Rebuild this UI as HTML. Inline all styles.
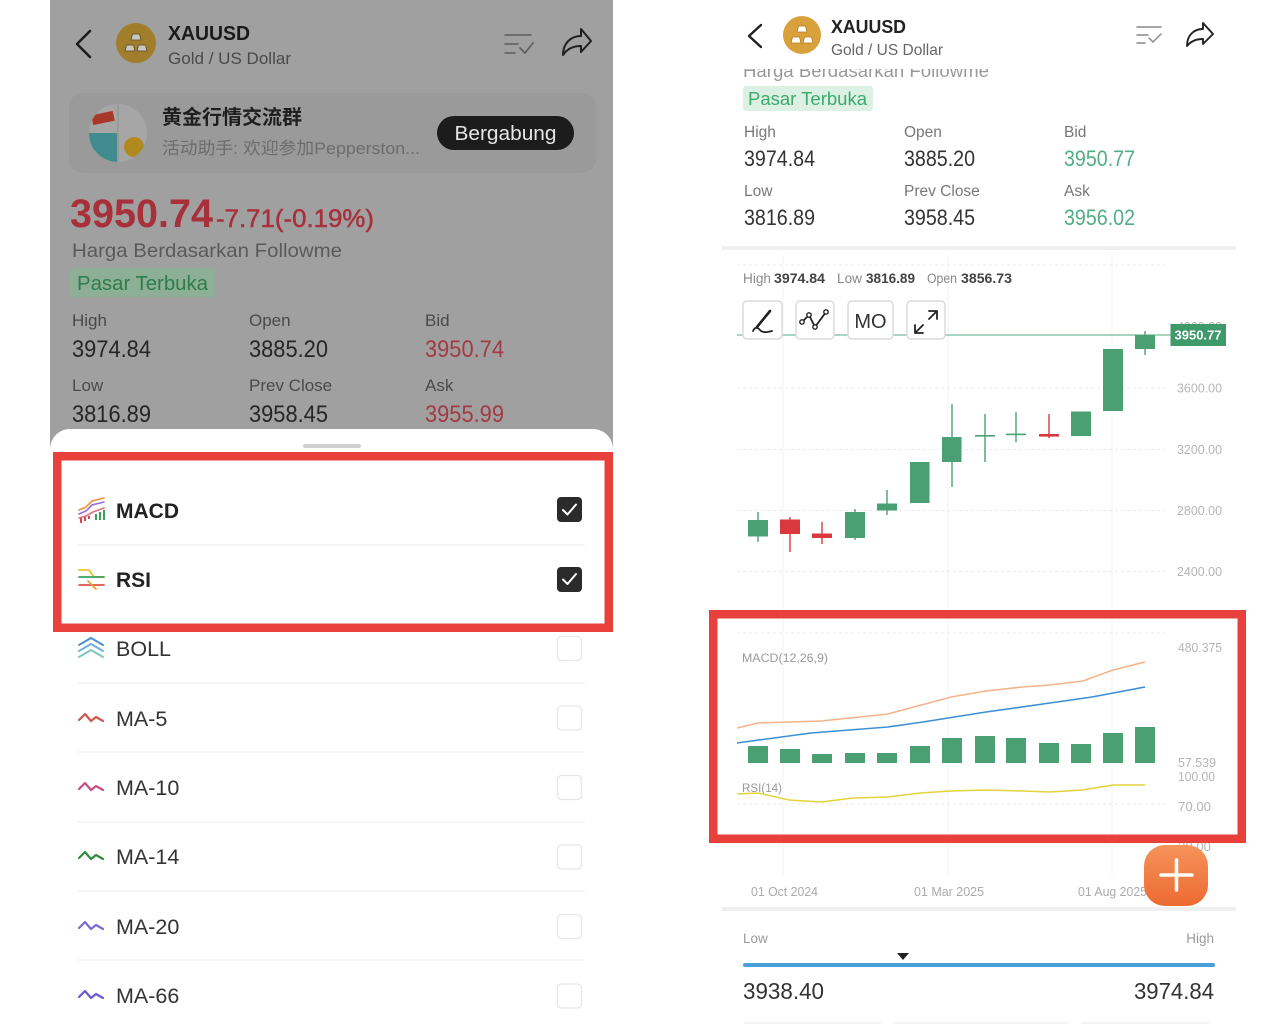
<!DOCTYPE html>
<html><head><meta charset="utf-8">
<style>
html,body{margin:0;padding:0;background:#fff;}
svg{display:block;}
text{font-family:"Liberation Sans","Noto Sans CJK SC",sans-serif;}
</style></head><body>
<svg width="1280" height="1029" viewBox="0 0 1280 1029" xmlns="http://www.w3.org/2000/svg">
<defs>
  <clipPath id="avc"><circle cx="118" cy="133" r="29"/></clipPath>
  <clipPath id="hclip"><rect x="722" y="69" width="520" height="16"/></clipPath>
  <linearGradient id="fab" x1="0" y1="0" x2="0" y2="1">
    <stop offset="0" stop-color="#f5935a"/><stop offset="1" stop-color="#ec6b32"/>
  </linearGradient>
</defs>
<rect width="1280" height="1029" fill="#fff"/>

<!-- ============ LEFT PANEL ============ -->
<rect x="50" y="0" width="563" height="450" fill="#a0a0a0"/>
<path d="M90,31 L77,44 L90,57" stroke="#1d1d1d" stroke-width="2.6" fill="none" stroke-linecap="round" stroke-linejoin="round"/>
<circle cx="136" cy="43" r="20" fill="#a07e2c"/>
<g fill="#c8c6c0" stroke="#5e4a1c" stroke-width="0.8">
  <polygon points="131,40 141,40 139.5,34 132.5,34"/>
  <polygon points="125,51 135,51 133.5,45 126.5,45"/>
  <polygon points="137,51 147,51 145.5,45 138.5,45"/>
</g>
<text x="168" y="40" font-size="20" font-weight="bold" fill="#1a1a1a" textLength="82" lengthAdjust="spacingAndGlyphs">XAUUSD</text>
<text x="168" y="64" font-size="17" fill="#4a4a4a" textLength="123" lengthAdjust="spacingAndGlyphs">Gold / US Dollar</text>
<g stroke="#5e5e5e" stroke-width="1.6" fill="none" stroke-linecap="round">
  <line x1="505" y1="35" x2="531" y2="35"/><line x1="505" y1="44" x2="518" y2="44"/><line x1="505" y1="53" x2="515" y2="53"/>
  <polyline points="520,48 525,53 533,43"/>
</g>
<path d="M563,55 C563,43 571,36 581,36 L581,29 L591,41 L581,52 L581,46 C573,46 567,49 563,55 Z" stroke="#1f1f1f" stroke-width="2" fill="none" stroke-linejoin="round"/>

<rect x="69" y="93" width="527" height="80" rx="14" fill="#9a9a9a"/>
<g clip-path="url(#avc)">
  <rect x="89" y="104" width="58" height="58" fill="#a6a6a6"/>
  <rect x="89" y="133" width="29" height="29" fill="#3f8b8d"/>
  <rect x="92" y="113" width="22" height="10" fill="#a8382a" transform="rotate(-12 103 118)"/>
  <circle cx="134" cy="147" r="10" fill="#b08a1e"/>
  <line x1="118" y1="104" x2="118" y2="162" stroke="#9a9a9a" stroke-width="2"/>
</g>
<text x="162" y="124" font-size="20" font-weight="bold" fill="#1f1f1f" textLength="140" lengthAdjust="spacingAndGlyphs">黄金行情交流群</text>
<text x="162" y="154" font-size="17" fill="#6c6c6c" textLength="258" lengthAdjust="spacingAndGlyphs">活动助手: 欢迎参加Pepperston...</text>
<rect x="437" y="116" width="137" height="34" rx="17" fill="#1c1c1c"/>
<text x="505.5" y="140" font-size="20" fill="#e6e6e6" text-anchor="middle" textLength="102" lengthAdjust="spacingAndGlyphs">Bergabung</text>

<text x="70" y="227" font-size="40" font-weight="bold" fill="#a8303a" textLength="143" lengthAdjust="spacingAndGlyphs">3950.74</text>
<text x="216" y="227" font-size="25" fill="#a8303a" stroke="#a8303a" stroke-width="0.5" textLength="158" lengthAdjust="spacingAndGlyphs">-7.71(-0.19%)</text>
<text x="72" y="257" font-size="19.5" fill="#5a5a5a" textLength="270" lengthAdjust="spacingAndGlyphs">Harga Berdasarkan Followme</text>
<rect x="70" y="268" width="145" height="29" rx="3" fill="#8caf96"/>
<text x="77" y="290" font-size="20" fill="#2f7d4c" textLength="131" lengthAdjust="spacingAndGlyphs">Pasar Terbuka</text>

<g font-size="17" fill="#4a4a4a">
  <text x="72" y="326">High</text><text x="249" y="326">Open</text><text x="425" y="326">Bid</text>
  <text x="72" y="391">Low</text><text x="249" y="391">Prev Close</text><text x="425" y="391">Ask</text>
</g>
<g font-size="24" fill="#262626">
  <text x="72" y="357" textLength="79" lengthAdjust="spacingAndGlyphs">3974.84</text>
  <text x="249" y="357" textLength="79" lengthAdjust="spacingAndGlyphs">3885.20</text>
  <text x="425" y="357" textLength="79" lengthAdjust="spacingAndGlyphs" fill="#a33a45">3950.74</text>
  <text x="72" y="422" textLength="79" lengthAdjust="spacingAndGlyphs">3816.89</text>
  <text x="249" y="422" textLength="79" lengthAdjust="spacingAndGlyphs">3958.45</text>
  <text x="425" y="422" textLength="79" lengthAdjust="spacingAndGlyphs" fill="#a33a45">3955.99</text>
</g>

<!-- sheet -->
<rect x="50" y="429" width="563" height="640" rx="20" fill="#ffffff"/>
<rect x="303" y="444" width="58" height="4" rx="2" fill="#cfcfcf"/>

<!-- list separators -->
<g stroke="#f1f1f1" stroke-width="1.2">
  <line x1="78" y1="545" x2="585" y2="545"/>
  <line x1="78" y1="683" x2="585" y2="683"/>
  <line x1="78" y1="752" x2="585" y2="752"/>
  <line x1="78" y1="822" x2="585" y2="822"/>
  <line x1="78" y1="891" x2="585" y2="891"/>
  <line x1="78" y1="960" x2="585" y2="960"/>
</g>

<!-- MACD icon -->
<g fill="none" stroke-width="1.6" stroke-linecap="round">
  <path d="M79,510 L86,507 L92,501 L104,498" stroke="#f0913a"/>
  <path d="M79,514 L86,511 L92,505 L104,502" stroke="#9a6ad6"/>
  <path d="M79,518 L86,516 L93,512 L104,508" stroke="#e0707a"/>
</g>
<g fill="#3aa05a"><rect x="95" y="514" width="2" height="6"/><rect x="99" y="512" width="2" height="8"/><rect x="103" y="510" width="2" height="10"/></g>
<g fill="#d9484a"><rect x="80" y="518" width="2" height="5"/><rect x="84" y="517" width="2" height="4"/><rect x="88" y="516" width="2" height="3"/></g>
<text x="116" y="518" font-size="21" font-weight="bold" fill="#222">MACD</text>
<rect x="557" y="497" width="25" height="25" rx="4" fill="#2b2b2b"/>
<path d="M563,510 L567.5,514.5 L576,504.5" stroke="#fff" stroke-width="2" fill="none" stroke-linecap="round" stroke-linejoin="round"/>

<!-- RSI icon -->
<g fill="none" stroke-width="1.8" stroke-linecap="round">
  <path d="M79,570 L89,570 L94,577 L104,577" stroke="#e8c431"/>
  <path d="M79,577 L104,577" stroke="#3aa05a"/>
  <path d="M79,585 L104,585" stroke="#e0504a"/>
  <path d="M88,581 L96,589" stroke="#f0a030"/>
</g>
<text x="116" y="587" font-size="21" font-weight="bold" fill="#222">RSI</text>
<rect x="557" y="567" width="25" height="25" rx="4" fill="#2b2b2b"/>
<path d="M563,579.5 L567.5,584 L576,574" stroke="#fff" stroke-width="2" fill="none" stroke-linecap="round" stroke-linejoin="round"/>

<!-- BOLL -->
<g fill="none" stroke-width="2" stroke-linejoin="round" stroke-linecap="round">
  <path d="M79,645 L91,638 L103,645" stroke="#4f8fd0"/>
  <path d="M79,651 L91,644 L103,651" stroke="#6fb0e0"/>
  <path d="M79,657 L91,650 L103,657" stroke="#7ec7c0"/>
</g>
<text x="116" y="656" font-size="21.5" fill="#333">BOLL</text>
<!-- MA rows -->
<g fill="none" stroke-width="2.2" stroke-linecap="round" stroke-linejoin="round">
  <path d="M79,720 L85,714 L91,721 L96,717 L103,721" stroke="#d2564a"/>
  <path d="M79,789 L85,783 L91,790 L96,786 L103,790" stroke="#c94c8a"/>
  <path d="M79,858 L85,852 L91,859 L96,855 L103,859" stroke="#2e8b3e"/>
  <path d="M79,928 L85,922 L91,929 L96,925 L103,929" stroke="#7a6ad0"/>
  <path d="M79,997 L85,991 L91,998 L96,994 L103,998" stroke="#6a5acd"/>
</g>
<g font-size="21.5" fill="#333">
  <text x="116" y="726">MA-5</text>
  <text x="116" y="795">MA-10</text>
  <text x="116" y="864">MA-14</text>
  <text x="116" y="934">MA-20</text>
  <text x="116" y="1003">MA-66</text>
</g>
<g fill="none" stroke="#e6e6e6" stroke-width="1.3">
  <rect x="557.5" y="636.5" width="24" height="24" rx="4"/>
  <rect x="557.5" y="706" width="24" height="24" rx="4"/>
  <rect x="557.5" y="775.5" width="24" height="24" rx="4"/>
  <rect x="557.5" y="845" width="24" height="24" rx="4"/>
  <rect x="557.5" y="914.5" width="24" height="24" rx="4"/>
  <rect x="557.5" y="984" width="24" height="24" rx="4"/>
</g>

<!-- ============ RIGHT PANEL ============ -->
<path d="M761,25 L749,36 L761,47" stroke="#222" stroke-width="2.4" fill="none" stroke-linecap="round" stroke-linejoin="round"/>
<circle cx="802" cy="35" r="19" fill="#d9a13c"/>
<g fill="#ffffff" stroke="#b87a1c" stroke-width="0.8">
  <polygon points="797,32 807,32 805.5,26 798.5,26"/>
  <polygon points="791,43 801,43 799.5,37 792.5,37"/>
  <polygon points="803,43 813,43 811.5,37 804.5,37"/>
</g>
<text x="831" y="33" font-size="18.5" font-weight="bold" fill="#222" textLength="75" lengthAdjust="spacingAndGlyphs">XAUUSD</text>
<text x="831" y="55" font-size="16" fill="#666" textLength="112" lengthAdjust="spacingAndGlyphs">Gold / US Dollar</text>
<g stroke="#8a8a8a" stroke-width="1.5" fill="none" stroke-linecap="round">
  <line x1="1137" y1="27" x2="1161" y2="27"/><line x1="1137" y1="35" x2="1148" y2="35"/><line x1="1137" y1="43" x2="1145" y2="43"/>
  <polyline points="1149,38 1153,42 1161,34"/>
</g>
<path d="M1187,46 C1187,35 1194,29 1203,29 L1203,23 L1213,34 L1203,44 L1203,39 C1196,39 1191,41 1187,46 Z" stroke="#222" stroke-width="1.9" fill="none" stroke-linejoin="round"/>

<text x="743" y="77" font-size="18" fill="#999" clip-path="url(#hclip)" textLength="246" lengthAdjust="spacingAndGlyphs">Harga Berdasarkan Followme</text>
<rect x="743" y="86" width="130" height="25" rx="3" fill="#dcf1e4"/>
<text x="748" y="105" font-size="18" fill="#3caa6a" textLength="119" lengthAdjust="spacingAndGlyphs">Pasar Terbuka</text>

<g font-size="15.5" fill="#777">
  <text x="744" y="137">High</text><text x="904" y="137">Open</text><text x="1064" y="137">Bid</text>
  <text x="744" y="196">Low</text><text x="904" y="196">Prev Close</text><text x="1064" y="196">Ask</text>
</g>
<g font-size="22" fill="#333">
  <text x="744" y="166" textLength="71" lengthAdjust="spacingAndGlyphs">3974.84</text>
  <text x="904" y="166" textLength="71" lengthAdjust="spacingAndGlyphs">3885.20</text>
  <text x="1064" y="166" textLength="71" lengthAdjust="spacingAndGlyphs" fill="#52ad84">3950.77</text>
  <text x="744" y="225" textLength="71" lengthAdjust="spacingAndGlyphs">3816.89</text>
  <text x="904" y="225" textLength="71" lengthAdjust="spacingAndGlyphs">3958.45</text>
  <text x="1064" y="225" textLength="71" lengthAdjust="spacingAndGlyphs" fill="#52ad84">3956.02</text>
</g>
<rect x="722" y="246" width="514" height="4" fill="#efefef"/>

<!-- chart grid -->
<g stroke="#f3f3f3" stroke-width="1">
  <line x1="783" y1="255" x2="783" y2="875"/>
  <line x1="948" y1="255" x2="948" y2="875"/>
  <line x1="1112" y1="255" x2="1112" y2="875"/>
</g>
<g stroke="#e9e9e9" stroke-width="1" stroke-dasharray="3,3">
  <line x1="737" y1="265" x2="1165" y2="265"/>
  <line x1="737" y1="388" x2="1165" y2="388"/>
  <line x1="737" y1="449.5" x2="1165" y2="449.5"/>
  <line x1="737" y1="510.5" x2="1165" y2="510.5"/>
  <line x1="737" y1="571.5" x2="1165" y2="571.5"/>
  <line x1="737" y1="633" x2="1165" y2="633"/>
  <line x1="737" y1="804" x2="1165" y2="804"/>
</g>

<g font-size="13.5">
  <text x="743" y="283" fill="#8a8a8a" textLength="28" lengthAdjust="spacingAndGlyphs">High</text>
  <text x="774" y="283" fill="#444" font-weight="bold" textLength="51" lengthAdjust="spacingAndGlyphs">3974.84</text>
  <text x="837" y="283" fill="#8a8a8a" textLength="25" lengthAdjust="spacingAndGlyphs">Low</text>
  <text x="866" y="283" fill="#444" font-weight="bold" textLength="49" lengthAdjust="spacingAndGlyphs">3816.89</text>
  <text x="927" y="283" fill="#8a8a8a" textLength="30" lengthAdjust="spacingAndGlyphs">Open</text>
  <text x="961" y="283" fill="#444" font-weight="bold" textLength="51" lengthAdjust="spacingAndGlyphs">3856.73</text>
</g>

<!-- y labels -->
<g font-size="12.5" fill="#b5b5b5">
  <text x="1177" y="331" textLength="45" lengthAdjust="spacingAndGlyphs">4000.00</text>
  <text x="1177" y="392.5" textLength="45" lengthAdjust="spacingAndGlyphs">3600.00</text>
  <text x="1177" y="454" textLength="45" lengthAdjust="spacingAndGlyphs">3200.00</text>
  <text x="1177" y="515" textLength="45" lengthAdjust="spacingAndGlyphs">2800.00</text>
  <text x="1177" y="576" textLength="45" lengthAdjust="spacingAndGlyphs">2400.00</text>
  <text x="1178" y="652" textLength="44" lengthAdjust="spacingAndGlyphs">480.375</text>
  <text x="1178" y="767" textLength="38" lengthAdjust="spacingAndGlyphs">57.539</text>
  <text x="1178" y="781" textLength="37" lengthAdjust="spacingAndGlyphs">100.00</text>
  <text x="1178" y="811" textLength="33" lengthAdjust="spacingAndGlyphs">70.00</text>
  <text x="1178" y="851" textLength="33" lengthAdjust="spacingAndGlyphs">30.00</text>
</g>

<!-- price line -->
<line x1="737" y1="335" x2="1172" y2="335" stroke="#8cc7ad" stroke-width="1.5"/>

<!-- toolbar -->
<g fill="#fff" stroke="#dcdcdc" stroke-width="1.5">
  <rect x="743" y="301" width="39" height="38" rx="4"/>
  <rect x="796" y="301" width="38" height="38" rx="4"/>
  <rect x="848" y="301" width="45" height="38" rx="4"/>
  <rect x="907" y="301" width="38" height="38" rx="4"/>
</g>
<path d="M770,311 L757,327" stroke="#222" stroke-width="2.6" stroke-linecap="round"/>
<path d="M753,331 C756,325 759,329 761,331 C764,333 768,332 772,331" stroke="#222" stroke-width="1.8" fill="none" stroke-linecap="round"/>
<polyline points="802,322 809,315 815,327 826,312" stroke="#222" stroke-width="1.8" fill="none"/>
<g fill="#fff" stroke="#222" stroke-width="1.4">
  <circle cx="802" cy="322" r="2.2"/><circle cx="809" cy="315" r="2.2"/><circle cx="815" cy="327" r="2.2"/><circle cx="826" cy="312" r="2.2"/>
</g>
<text x="870.5" y="328" font-size="20" fill="#333" text-anchor="middle">MO</text>
<g stroke="#222" stroke-width="1.8" fill="none" stroke-linecap="round" stroke-linejoin="round">
  <path d="M929,311 L937,311 L937,319 M937,311 L929,319"/>
  <path d="M915,325 L915,333 L923,333 M915,333 L923,325"/>
</g>

<!-- candles -->
<g stroke="#4ba073" stroke-width="1.4">
  <line x1="758" y1="512" x2="758" y2="542"/>
  <line x1="855" y1="509" x2="855" y2="540"/>
  <line x1="887" y1="490" x2="887" y2="515"/>
  <line x1="952" y1="404" x2="952" y2="487"/>
  <line x1="985" y1="414" x2="985" y2="462"/>
  <line x1="1016" y1="412" x2="1016" y2="442"/>
  <line x1="1145" y1="331" x2="1145" y2="355"/>
</g>
<g stroke="#d9383f" stroke-width="1.4">
  <line x1="790" y1="517" x2="790" y2="552"/>
  <line x1="822" y1="522" x2="822" y2="544"/>
  <line x1="1049" y1="414" x2="1049" y2="438"/>
</g>
<g fill="#4ba073">
  <rect x="748" y="520" width="20" height="16.5"/>
  <rect x="845" y="512" width="20" height="26"/>
  <rect x="877" y="503.5" width="20" height="7"/>
  <rect x="910" y="462" width="19.5" height="41"/>
  <rect x="942" y="437" width="19.5" height="25"/>
  <rect x="975" y="435" width="20" height="1.6"/>
  <rect x="1006" y="433.6" width="20" height="1.6"/>
  <rect x="1071" y="411.5" width="20" height="24.5"/>
  <rect x="1103" y="349" width="20" height="62"/>
  <rect x="1135" y="335" width="20" height="14"/>
</g>
<g fill="#d9383f">
  <rect x="780" y="519.5" width="20" height="14.5"/>
  <rect x="812" y="533.5" width="20" height="4.5"/>
  <rect x="1039" y="434" width="20" height="2.6"/>
</g>

<!-- price label -->
<rect x="1170.5" y="324" width="55.5" height="22" fill="#3e9a6b"/>
<text x="1198" y="339.5" font-size="12.5" font-weight="bold" fill="#fff" text-anchor="middle" textLength="47" lengthAdjust="spacingAndGlyphs">3950.77</text>

<!-- MACD -->
<text x="742" y="662" font-size="11.5" fill="#9a9a9a" textLength="86" lengthAdjust="spacingAndGlyphs">MACD(12,26,9)</text>
<polyline fill="none" stroke="#f4b48a" stroke-width="1.6" points="737,728 758,723 821,721 888,714 951,697 986,691 1022,687 1050,685 1083,681 1113,670 1145,662"/>
<polyline fill="none" stroke="#3d8fd6" stroke-width="1.6" points="737,743 811,733 888,727 923,722 986,712 1057,702 1092,697 1145,687"/>
<g fill="#4ba073">
  <rect x="748" y="746" width="20" height="17"/>
  <rect x="780" y="749" width="20" height="14"/>
  <rect x="812" y="754" width="20" height="9"/>
  <rect x="845" y="753" width="20" height="10"/>
  <rect x="877" y="753" width="20" height="10"/>
  <rect x="910" y="746" width="20" height="17"/>
  <rect x="942" y="738" width="20" height="25"/>
  <rect x="975" y="736" width="20" height="27"/>
  <rect x="1006" y="738" width="20" height="25"/>
  <rect x="1039" y="743" width="20" height="20"/>
  <rect x="1071" y="744" width="20" height="19"/>
  <rect x="1103" y="733" width="20" height="30"/>
  <rect x="1135" y="727" width="20" height="36"/>
</g>
<text x="742" y="792" font-size="11.5" fill="#9a9a9a" textLength="40" lengthAdjust="spacingAndGlyphs">RSI(14)</text>
<polyline fill="none" stroke="#e2d43a" stroke-width="1.5" points="737,794 758,793 789,800 821,802 853,798 888,797 920,793 951,791 987,790 1022,791 1050,792 1082,790 1113,785 1145,785"/>

<!-- red boxes -->
<rect x="57.25" y="456.25" width="551.5" height="171.5" fill="none" stroke="#e8403a" stroke-width="8.5"/>
<rect x="713.25" y="614.25" width="528.5" height="224.5" fill="none" stroke="#e8403a" stroke-width="8.5"/>

<!-- dates -->
<g font-size="12.5" fill="#aaa">
  <text x="751" y="896" textLength="67" lengthAdjust="spacingAndGlyphs">01 Oct 2024</text>
  <text x="914" y="896" textLength="70" lengthAdjust="spacingAndGlyphs">01 Mar 2025</text>
  <text x="1078" y="896" textLength="69" lengthAdjust="spacingAndGlyphs">01 Aug 2025</text>
</g>
<!-- FAB -->
<rect x="1144" y="845" width="64" height="61" rx="21" fill="url(#fab)"/>
<g stroke="#fff" stroke-width="3.5" stroke-linecap="round">
  <line x1="1161" y1="875" x2="1192" y2="875"/>
  <line x1="1176.5" y1="860" x2="1176.5" y2="890"/>
</g>

<rect x="722" y="907" width="514" height="4" fill="#efefef"/>
<text x="743" y="943" font-size="13.5" fill="#9a9a9a">Low</text>
<text x="1214" y="943" font-size="13.5" fill="#9a9a9a" text-anchor="end">High</text>
<polygon points="897,953 909,953 903,960" fill="#222"/>
<rect x="743" y="963" width="472" height="4" rx="2" fill="#4a9ed9"/>
<text x="743" y="999" font-size="23" fill="#333" textLength="81" lengthAdjust="spacingAndGlyphs">3938.40</text>
<text x="1134" y="999" font-size="23" fill="#333" textLength="80" lengthAdjust="spacingAndGlyphs">3974.84</text>
<g stroke="#f2f2f2" stroke-width="1.5">
  <line x1="744" y1="1023" x2="881" y2="1023"/>
  <line x1="893" y1="1023" x2="1069" y2="1023"/>
  <line x1="1081" y1="1023" x2="1209" y2="1023"/>
</g>
</svg>
</body></html>
